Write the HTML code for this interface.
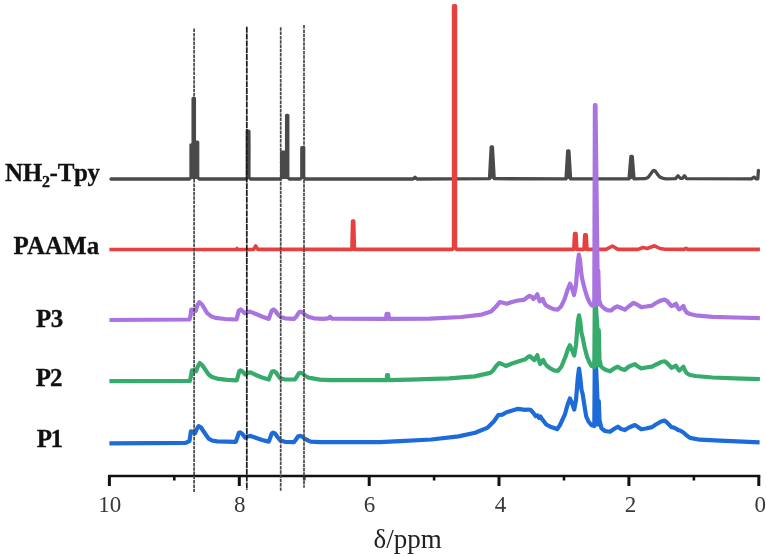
<!DOCTYPE html>
<html><head><meta charset="utf-8"><style>
html,body{margin:0;padding:0;background:#fff;}
body{width:766px;height:556px;overflow:hidden;}
svg{display:block;will-change:transform;}
.tk{font-family:"Liberation Serif",serif;font-size:23px;fill:#383838;}
.lb{font-family:"Liberation Serif",serif;font-size:25px;font-weight:bold;fill:#111;stroke:#111;stroke-width:0.3;}
.ax{font-family:"Liberation Serif",serif;font-size:27px;fill:#222;}
</style></head><body>
<svg width="766" height="556" viewBox="0 0 766 556">
<rect width="766" height="556" fill="#fff"/>
<g transform="translate(0,0.3)">
<path d="M191,178.7 L191,144.5 L193.1,144.5 L193.1,98 L194.4,98 L194.4,141.8 L197.7,141.8 L197.7,178.7Z" fill="#4a4a4a" stroke="none"/>
<path d="M247.3,178.7 L247.3,130.8 L248.9,130.8 L249,146 L248.9,178.7Z" fill="#4a4a4a" stroke="none"/>
<path d="M281.7,178.7 L281.7,151.8 L286.6,151.8 L286.6,115 L287.8,115 L287.8,178.7Z" fill="#4a4a4a" stroke="none"/>
<path d="M301.8,178.7 L301.8,147.3 L303.7,147.3 L303.7,178.7Z" fill="#4a4a4a" stroke="none"/>
<path d="M489.5,178.4 L491.2,146.6 L492.4,146.6 L494.2,178.4Z" fill="#4a4a4a" stroke="none"/>
<path d="M566,178.6 L567.7,150.6 L568.9,150.6 L570.6,178.6Z" fill="#4a4a4a" stroke="none"/>
<path d="M629,178.6 L630.9,156.2 L632.3,156.2 L634,178.6Z" fill="#4a4a4a" stroke="none"/>
<path d="M111,178.7 L189.5,178.7 L191,177 L191,144.5 L193.1,144.5 L193.1,98 L194.4,98 L194.4,141.8 L197.7,141.8 L197.7,177 L199.2,178.7 L245.8,178.7 L247.3,177 L247.3,130.8 L248.9,130.8 L249,146 L248.9,177 L250.4,178.7 L280.2,178.7 L281.7,177 L281.7,151.8 L286.6,151.8 L286.6,115 L287.8,115 L287.8,177 L289.3,178.7 L300.3,178.7 L301.8,177 L301.8,147.3 L303.7,147.3 L303.7,177 L305.2,178.7 L413,178.7 L415,177 L417,178.7 L489.5,178.4 L491.2,146.6 L492.4,146.6 L494.2,178.4 L566,178.6 L567.7,150.6 L568.9,150.6 L570.6,178.6 L629,178.6 L630.9,156.2 L632.3,156.2 L634,178.6 L645,178.4 L648,177.2 L650.5,174 L652.5,171 L654,170.2 L655.5,171 L657.5,174 L660,176.8 L663,178 L666,178.5 L675.5,178.3 L678,175.5 L680.5,178 L682.5,178 L684.5,175.5 L686.5,178.3 L751.5,178.6 L754,176.8 L756,178.5 L757.8,178.6 L758.4,170.2" fill="none" stroke="#4a4a4a" stroke-width="3.3" stroke-linejoin="round" stroke-linecap="round"/>
</g>
<path d="M351.9,249.4 L352.6,221 L353.7,221 L354.4,249.4Z" fill="#e8403f" stroke="none"/>
<path d="M573.8,249.4 L574.6,233.6 L576,233.6 L576.8,249.4Z" fill="#e8403f" stroke="none"/>
<path d="M584,249.4 L584.8,234.8 L586.2,234.8 L587,249.4Z" fill="#e8403f" stroke="none"/>
<path d="M109.4,249.5 L236,249.5 L237,248.5 L238,249.5 L253.5,249.4 L255.7,246 L257.8,249.4 L351.9,249.4 L352.6,221 L353.7,221 L354.4,249.4 L452.6,249.4 L453.6,247 L453.6,5.8 L455.4,5.8 L455.4,247 L456.4,249.4 L573.8,249.4 L574.6,233.6 L576,233.6 L576.8,249.4 L584,249.4 L584.8,234.8 L586.2,234.8 L587,249.4 L606,249.4 L612.4,246 L618,249.4 L638,249.4 L643,247.5 L647,248.5 L654.5,245.8 L660,248.5 L665,249.2 L684,249.4 L686,248.3 L688,249.4 L759.9,249.4" fill="none" stroke="#e8403f" stroke-width="3.6" stroke-linejoin="round" stroke-linecap="butt"/>
<path d="M594.3,426 L594.8,360 L595.8,360 L597.5,401 L598.8,401 L599.5,420 L600.5,427Z" fill="#1d6bd8"/>
<path d="M109.4,443.4 L150,443.2 L185.6,442.8 L189.5,441 L190.9,431.3 L193,432 L195,433.4 L196.8,429 L198.6,426.1 L201,427.5 L204,432 L208.6,438.6 L212,440.5 L217,441.4 L235.8,441.8 L237.5,437 L238.8,433 L240,432.4 L242,433.5 L245.2,437.6 L247.5,436.5 L250.4,435.9 L255,437.5 L262,440 L268.8,441.6 L270.5,437 L271.8,433.5 L273,432.6 L275,433.5 L277.5,437 L280.3,440.5 L285,441.8 L293.9,442.2 L296,439.5 L298,436.5 L299.7,435.9 L302,436.5 L305,439 L310.6,441.6 L320,442.2 L380,442.2 L400,441.2 L431.3,439.5 L458.5,436.4 L475.2,432.8 L487.7,427.6 L494,421.3 L498.2,415.1 L502.3,414.6 L506,412.5 L510.7,410.9 L518,408.8 L525.3,409.8 L528,409.5 L530.5,409.8 L533,412.5 L535.8,416.1 L537.5,415.5 L539,418 L540.5,416.5 L542,419.2 L544,421.5 L546.2,424.5 L550.3,426.7 L555.6,428.6 L557.1,429.2 L560,425 L564.8,414.7 L567.5,405 L569.9,398.5 L572,403 L574.2,409.6 L576,400 L577.8,378 L579,368.5 L580.3,378 L581.5,390 L582.7,394.2 L584.5,406 L586.2,416.4 L588.5,421.5 L591.3,425 L594.3,426 L594.8,360 L595.8,360 L597.5,401 L598.8,401 L599.5,420 L601.5,428.4 L605,431 L610,431.8 L614,429 L617.8,426.7 L621,429 L624.6,430.1 L629,427.5 L634.9,425 L638,427 L641.2,429.3 L646,428.5 L652,427.1 L655,425 L658.5,423 L661,421.5 L664.6,420.6 L667,422.5 L671.5,427.1 L673.5,427.5 L675.9,428.6 L678,430 L680,430.5 L683.4,432.5 L686.7,435.5 L690,437.9 L700,439.7 L720,440.7 L759.6,442.3" fill="none" stroke="#1d6bd8" stroke-width="4.2" stroke-linejoin="round" stroke-linecap="butt"/>
<path d="M594.3,367 L594.8,300 L595.5,300 L597.5,330 L598.8,330 L599.5,360 L600.3,367Z" fill="#37ab6c"/>
<path d="M109.4,381.1 L189.8,381 L190.8,377 L191.9,370.3 L194,370.5 L196.1,371.3 L198,366 L199.8,363 L202.5,365.5 L208.6,374.5 L212,377 L217,378.6 L227,379.8 L236.8,380.3 L238,376 L239.3,371 L240.6,370.3 L242.5,371.5 L245.2,374.5 L247.5,373 L250.4,372.4 L256,375 L262,377.5 L268.8,379.5 L270.5,375 L272,371.5 L274,371.1 L276,372.5 L278,375.5 L280.3,378.4 L285,379.5 L294.9,379.5 L297,376.5 L298.7,373.5 L300.1,372.8 L302.5,373.5 L305.5,376 L309,377.8 L312.7,378.4 L320,379.6 L330,380.1 L386.7,380.1 L387,375 L388,375 L388.3,380.1 L410,379.7 L449.2,378.4 L474.6,376.4 L490.3,372.9 L493,370.5 L496.2,366 L499.1,363.1 L502,364 L505.9,366 L512,363.5 L519.7,361.1 L525.5,359.2 L528,357 L529.8,356.2 L532,358 L534.3,360.1 L536,357.5 L537.3,355.2 L538.5,359.5 L540.2,364.1 L541.8,361.5 L543.2,360.1 L545,363.5 L547.1,366 L550.3,368.4 L554,370.3 L558,370.9 L561.5,366.5 L565.6,356.4 L568,349 L569.9,345.3 L572,350 L574.2,355.6 L576,345 L577.8,322 L579,315.4 L580.3,322 L581.5,333 L582.7,337.6 L584.5,347 L587,356.4 L589,361.5 L591.3,365.8 L594.3,367 L594.8,300 L595.5,300 L597.5,330 L598.8,330 L599.5,360 L601,366.5 L603.2,368.4 L606,370 L610.1,371.3 L614,368.5 L617.8,366.7 L621,368.8 L624.6,370 L629,366.5 L634.9,364.1 L638,366.5 L641.2,368.4 L646,367.5 L652,366.7 L655,365 L658.5,363.5 L661,362 L664.6,361.3 L667,363 L671.5,367.8 L673.5,367 L675.9,365.6 L677.5,368.5 L679.1,370.6 L681.5,368.5 L683.4,366.7 L685,370.5 L686.7,373.2 L690,375 L695.4,376 L712.7,377.5 L735,378.4 L759.9,379.2" fill="none" stroke="#37ab6c" stroke-width="4.2" stroke-linejoin="round" stroke-linecap="butt"/>
<path d="M594.3,306 L594.9,105 L595.5,105 L597.5,270.5 L598.3,270.5 L599,300 L600,306Z" fill="#a974e0"/>
<path d="M109.4,320 L189.5,319.5 L190.5,316 L191.3,309.5 L194,310 L195.7,311 L197.5,305 L199.3,302.2 L202,304.5 L207.2,313.2 L211,316.2 L215.5,317.9 L225,319 L236.4,319.5 L237.5,316 L238.8,310.5 L240.6,309.5 L242.5,311 L244.8,313.2 L247.5,312 L250,311.6 L256,314 L262,316.5 L268.8,318.9 L270.5,314 L271.8,310.5 L273.5,309.5 L275.5,311 L277.5,314 L280.3,316.9 L285,318.3 L293.9,318.9 L296.5,316.5 L298.5,313 L300.1,311.6 L302.5,312.5 L305,314.8 L308.5,316.9 L314,318.3 L323.1,318.9 L328,318.4 L330,316.8 L332,318.6 L386,318.9 L386.6,313.8 L388.4,313.8 L389,318.9 L430,318.6 L461.3,317 L481.7,314.6 L491.1,311.5 L495.8,306.8 L499.7,302.1 L502,302.5 L506.8,303.7 L512,302 L517.7,300.5 L524,299.8 L527,297.5 L529.5,295.8 L532,297 L533.4,299 L535.5,297 L537.3,294.3 L538.5,298 L539.7,301.3 L541.5,299.5 L542.8,299 L544,302.5 L545.9,305.2 L550,307.6 L553.5,309.2 L557.8,309.6 L561,306.5 L564.3,299.9 L567.5,290 L570,283.7 L572,288 L574,295 L576,285 L577.8,262 L578.9,254.6 L580,260 L581.5,275 L582.9,282.1 L585,290 L587,296.7 L589.5,302.5 L591.8,305.5 L594.3,306 L594.9,105 L595.5,105 L597.5,270.5 L598.3,270.5 L599,300 L601,305.5 L605,309 L608,310.4 L611.3,310.4 L614,308 L617.3,306.4 L620,307.5 L624.9,309.7 L628,307 L633.6,302.8 L637,304.5 L641.2,307.1 L646,306.5 L652,305.6 L655,303.5 L658.5,301.7 L661,300.5 L664.6,299.5 L667,301 L671.5,306 L673.5,305.5 L675.9,303.8 L677.5,307 L679.1,309.3 L681.5,308 L683.4,306 L685,310 L686.7,312.5 L690,314 L695.4,315.3 L712.7,316.8 L735,317.5 L759.9,318.1" fill="none" stroke="#a974e0" stroke-width="4.2" stroke-linejoin="round" stroke-linecap="butt"/>
<path d="M108,476 L760.3,476" stroke="#111" stroke-width="2.6" fill="none"/>
<path d="M109.4,476 L109.4,486" stroke="#111" stroke-width="3" fill="none"/>
<path d="M174.3,476 L174.3,480.5" stroke="#111" stroke-width="2.6" fill="none"/>
<path d="M239.3,476 L239.3,486" stroke="#111" stroke-width="3" fill="none"/>
<path d="M304.2,476 L304.2,480.5" stroke="#111" stroke-width="2.6" fill="none"/>
<path d="M369.2,476 L369.2,486" stroke="#111" stroke-width="3" fill="none"/>
<path d="M434.1,476 L434.1,480.5" stroke="#111" stroke-width="2.6" fill="none"/>
<path d="M499.0,476 L499.0,486" stroke="#111" stroke-width="3" fill="none"/>
<path d="M564.0,476 L564.0,480.5" stroke="#111" stroke-width="2.6" fill="none"/>
<path d="M628.9,476 L628.9,486" stroke="#111" stroke-width="3" fill="none"/>
<path d="M693.9,476 L693.9,480.5" stroke="#111" stroke-width="2.6" fill="none"/>
<path d="M758.8,476 L758.8,486" stroke="#111" stroke-width="3" fill="none"/>
<path d="M194.1,28.6 L194.1,492" stroke="#484848" stroke-width="1.7" stroke-dasharray="3.5 0.8" fill="none"/>
<path d="M246.8,26.8 L246.8,490" stroke="#1a1a1a" stroke-width="1.7" stroke-dasharray="6 0.8" fill="none"/>
<path d="M280.7,27.3 L280.7,490.7" stroke="#484848" stroke-width="1.7" stroke-dasharray="3.5 0.8" fill="none"/>
<path d="M304.0,25.1 L304.0,487.8" stroke="#484848" stroke-width="1.7" stroke-dasharray="3.5 0.8" fill="none"/>
<text x="109.7" y="512" text-anchor="middle" class="tk">10</text>
<text x="239.8" y="512" text-anchor="middle" class="tk">8</text>
<text x="369.5" y="512" text-anchor="middle" class="tk">6</text>
<text x="500.4" y="512" text-anchor="middle" class="tk">4</text>
<text x="630.4" y="512" text-anchor="middle" class="tk">2</text>
<text x="760.3" y="512" text-anchor="middle" class="tk">0</text>
<text x="5" y="180.5" class="lb" letter-spacing="-0.3">NH<tspan font-size="16" dy="6">2</tspan><tspan dy="-6">-Tpy</tspan></text>
<text x="13.6" y="253.7" class="lb">PAAMa</text>
<text x="36" y="326.6" class="lb" letter-spacing="-0.6">P3</text>
<text x="35.7" y="385.8" class="lb" letter-spacing="-1">P2</text>
<text x="36.8" y="446.8" class="lb" letter-spacing="-1.5">P1</text>
<text x="373.5" y="547.6" class="ax">&#948;/ppm</text>
</svg>
</body></html>
